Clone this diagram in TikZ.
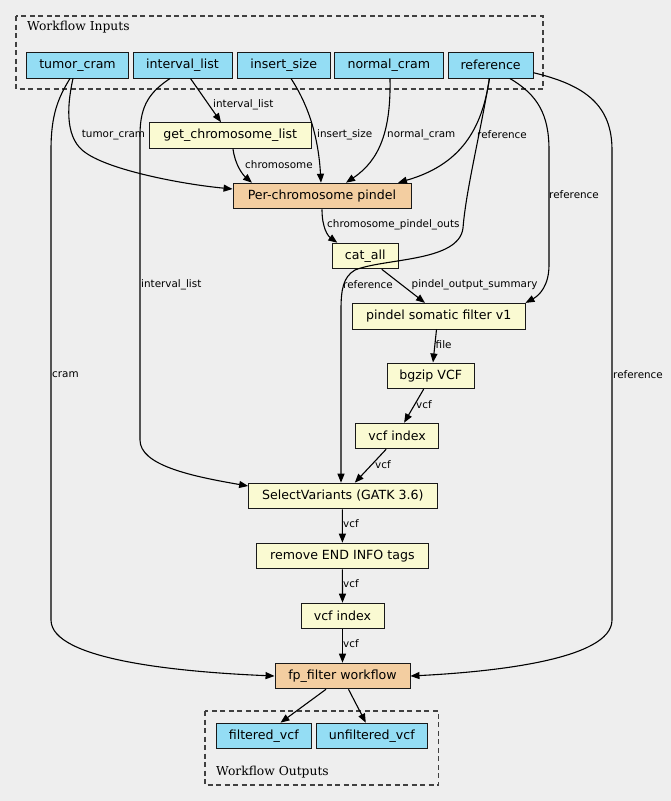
\documentclass[tikz,border=0pt]{standalone}
\usepackage{fontspec}
\setmainfont{DejaVu Sans}
\newfontfamily\titlefont{DejaVu Serif}
\usetikzlibrary{arrows.meta}
\definecolor{bgc}{HTML}{EEEEEE}
\definecolor{ioc}{HTML}{94DDF4}
\definecolor{stepc}{HTML}{FAFAD2}
\definecolor{subc}{HTML}{F3CEA1}
\begin{document}
\begin{tikzpicture}[x=1pt,y=-1pt,
 box/.style={draw=black!90, line width=0.9pt, inner sep=0pt, minimum height=25.7pt, font=\fontsize{12.6}{14}\selectfont},
 iobox/.style={box, fill=ioc},
 stepbox/.style={box, fill=stepc},
 subbox/.style={box, fill=subc},
 edge/.style={line width=1.1pt, -{Triangle[length=9pt,width=7pt]}},
 lbl/.style={font=\fontsize{10.4}{12}\selectfont, anchor=west, inner sep=0pt},
 cluster/.style={draw=black!75, dash pattern=on 5pt off 3.5pt, line width=1.1pt},
 ctitle/.style={font=\titlefont\fontsize{12.3}{14}\selectfont, anchor=west, inner sep=0pt},
]
\fill[bgc] (0,0) rectangle (671,801);
\useasboundingbox (0,0) rectangle (671,801);

% clusters
\draw[cluster] (16,16) rectangle (543,89);
\draw[cluster] (205,711) rectangle (438.6,785);
\node[ctitle] (tin) at (27,27) {Workflow Inputs};
\node[ctitle] (tout) at (216,772) {Workflow Outputs};

% nodes
\node[iobox, minimum width=102pt] (tc) at (77.5,65.2) {tumor\_cram};
\node[iobox, minimum width=99pt] (il) at (182.5,65.2) {interval\_list};
\node[iobox, minimum width=92.5pt] (ins) at (283.7,65.2) {insert\_size};
\node[iobox, minimum width=108.4pt] (nc) at (388.8,65.2) {normal\_cram};
\node[iobox, minimum width=84.7pt] (ref) at (490.6,65.2) {reference};

\node[stepbox, minimum width=162.5pt] (gcl) at (230.2,135.5) {get\_chromosome\_list};
\node[subbox, minimum width=178pt] (pc) at (322,196) {Per-chromosome pindel};
\node[stepbox, minimum width=66pt] (ca) at (365.3,256) {cat\_all};
\node[stepbox, minimum width=172.7pt] (ps) at (438.7,316.2) {pindel somatic filter v1};
\node[stepbox, minimum width=87.3pt] (bz) at (430.7,375.8) {bgzip VCF};
\node[stepbox, minimum width=83pt] (vi1) at (397.1,436) {vcf index};
\node[stepbox, minimum width=188.4pt] (sv) at (342.8,496) {SelectVariants (GATK 3.6)};
\node[stepbox, minimum width=172.7pt] (rm) at (342.4,556) {remove END INFO tags};
\node[stepbox, minimum width=83pt] (vi2) at (342.5,616) {vcf index};
\node[subbox, minimum width=135pt] (fp) at (342.5,676) {fp\_filter workflow};
\node[iobox, minimum width=94.5pt] (fv) at (263.8,736) {filtered\_vcf};
\node[iobox, minimum width=111.5pt] (uv) at (371.8,736) {unfiltered\_vcf};

% edges
\draw[edge] ([xshift=-7.5pt]tc.south) .. controls (58,98) and (51,115) .. (51,150) -- (51,620) .. controls (51,660) and (180,672) .. (fp.west);
\draw[edge] ([xshift=-4.5pt]tc.south) .. controls (66,110) and (66,140) .. (86,153) .. controls (110,170) and (180,184) .. ([yshift=7pt]pc.west);
\draw[edge] ([xshift=-12.5pt]il.south) .. controls (150,92) and (140,105) .. (140,135) -- (140,440) .. controls (140,465) and (190,476) .. ([yshift=10pt]sv.west);
\draw[edge] ([xshift=8pt]il.south) -- ([xshift=-9.2pt]gcl.north);
\draw[edge] ([xshift=2.8pt]gcl.south) .. controls (235,165) and (243,175) .. ([xshift=-70pt]pc.north);
\draw[edge] ([xshift=7.3pt]ins.south) .. controls (305,100) and (318,130) .. ([xshift=-1pt]pc.north);
\draw[edge] ([xshift=1.2pt]nc.south) .. controls (391,130) and (380,160) .. ([xshift=24pt]pc.north);
\draw[edge] ([xshift=-1.2pt]ref.south) .. controls (482,130) and (460,165) .. ([xshift=76pt]pc.north);
\draw[edge] ([xshift=19.3pt]ref.south) .. controls (538,95) and (549,115) .. (549,150) -- (549,265) .. controls (549,285) and (540,295) .. (ps.north east);
\draw[edge] ([xshift=-1.2pt]ref.south) .. controls (480,135) and (466,190) .. (463,228) .. controls (459,262) and (385,258) .. (355,270) .. controls (343,277) and (341,290) .. (341,310) -- ([xshift=-1.8pt]sv.north);
\draw[edge] ([yshift=-7.5pt]ref.east) .. controls (585,85) and (612,105) .. (612,150) -- (612,620) .. controls (612,660) and (490,672) .. (fp.east);
\draw[edge] (pc.south) .. controls (322,228) and (328,236) .. ([xshift=-28pt]ca.north);
\draw[edge] ([xshift=16.5pt]ca.south) -- ([xshift=-13.7pt]ps.north);
\draw[edge] ([xshift=-2.2pt]ps.south) -- ([xshift=2.3pt]bz.north);
\draw[edge] ([xshift=-7pt]bz.south) -- ([xshift=7pt]vi1.north);
\draw[edge] ([xshift=-11pt]vi1.south) -- ([xshift=12pt]sv.north);
\draw[edge] ([xshift=-0.4pt]sv.south) -- (rm.north);
\draw[edge] (rm.south) -- (vi2.north);
\draw[edge] (vi2.south) -- (fp.north);
\draw[edge] ([xshift=-16.5pt]fp.south) -- ([xshift=16.7pt]fv.north);
\draw[edge] ([xshift=6pt]fp.south) -- ([xshift=-6pt]uv.north);

% edge labels
\node[lbl] (l1) at (52,375) {cram};
\node[lbl] (l2) at (81.7,135) {tumor\_cram};
\node[lbl] (l3) at (141,285) {interval\_list};
\node[lbl] (l4) at (213,105) {interval\_list};
\node[lbl] (l5) at (245,165) {chromosome};
\node[lbl] (l6) at (317,135) {insert\_size};
\node[lbl] (l7) at (387,135) {normal\_cram};
\node[lbl] (l8) at (477,135) {reference};
\node[lbl] (l9) at (549,195) {reference};
\node[lbl] (l10) at (343,285) {reference};
\node[lbl] (l11) at (613,375) {reference};
\node[lbl] (l12) at (327,225) {chromosome\_pindel\_outs};
\node[lbl] (l13) at (411.5,285) {pindel\_output\_summary};
\node[lbl] (l14) at (435.5,345) {file};
\node[lbl] (l15) at (416,405) {vcf};
\node[lbl] (l16) at (375,465) {vcf};
\node[lbl] (l17) at (343,524) {vcf};
\node[lbl] (l18) at (343,584) {vcf};
\node[lbl] (l19) at (343,644) {vcf};
\end{tikzpicture}
\end{document}
